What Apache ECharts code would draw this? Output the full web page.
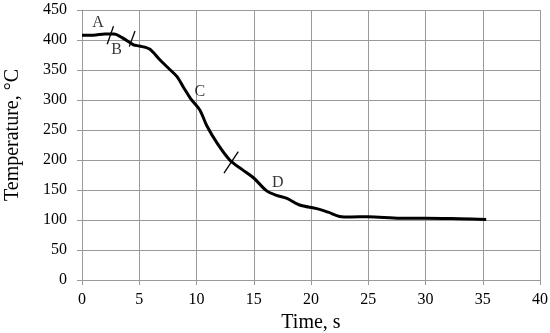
<!DOCTYPE html>
<html><head><meta charset="utf-8">
<script src="https://cdn.jsdelivr.net/npm/echarts@6/dist/echarts.min.js"></script>
<style>html,body{margin:0;padding:0;background:#fff}#c{width:550px;height:333px}</style>
</head><body><div id="c"></div>
<script>
const timeS = [0, 1, 2, 2.8, 3.5, 4.5, 5, 5.9, 6.8, 7.6, 8.3, 8.9, 9.5, 10.3, 10.9, 11.8, 12.9, 14, 15, 16.1, 17, 17.9, 19, 20.5, 21.5, 22.5, 23.5, 25, 27.8, 30, 33, 35.3];
const tempC = [408, 408, 410, 410, 404, 392, 390, 385, 367, 352, 339, 320, 302, 283, 257, 228, 200, 184, 170, 149, 141, 136, 125, 119, 113, 106, 105, 105.5, 103, 103, 102, 101];
const slashA = [[2.2, 393], [2.75, 423]];
const slashB = [[4.13, 389], [4.63, 415]];
const slashC = [[12.4, 178], [13.65, 214]];
const stageLabels = [["A", 1.4, 428], ["B", 3.03, 384], ["C", 10.3, 314], ["D", 17.1, 162]];
const xTicks = [0, 5, 10, 15, 20, 25, 30, 35, 40];
const yTicks = [0, 50, 100, 150, 200, 250, 300, 350, 400, 450];

const font = 'Liberation Serif, Times New Roman, serif';
const gray = '#9a9a9a';
const slashSeries = [slashA, slashB, slashC].map(d => ({
  type: 'line', data: d, symbol: 'none', silent: true,
  lineStyle: {color: '#000', width: 1.3}
}));
const chart = echarts.init(document.getElementById('c'));
chart.setOption({
  animation: false,
  grid: {left: 82, right: 10, top: 10, bottom: 53, containLabel: false, outerBoundsMode: 'none'},
  xAxis: {
    type: 'value', min: xTicks[0], max: xTicks[xTicks.length-1], interval: 5,
    name: 'Time, s', nameLocation: 'middle', nameGap: 26,
    nameTextStyle: {fontFamily: font, fontSize: 20, color: '#000'},
    axisLine: {show: true, lineStyle: {color: gray}},
    axisTick: {show: true, length: 5, lineStyle: {color: gray}},
    axisLabel: {fontFamily: font, fontSize: 16, color: '#000', margin: 12},
    splitLine: {show: true, lineStyle: {color: gray, width: 1}}
  },
  yAxis: {
    type: 'value', min: yTicks[0], max: yTicks[yTicks.length-1], interval: 50,
    name: 'Temperature, °C', nameLocation: 'middle', nameGap: 59,
    nameTextStyle: {fontFamily: font, fontSize: 20, color: '#000', padding: [0, 0, 0, 20]},
    axisLine: {show: true, lineStyle: {color: gray}},
    axisTick: {show: true, length: 5, lineStyle: {color: gray}},
    axisLabel: {fontFamily: font, fontSize: 16, color: '#000', margin: 15},
    splitLine: {show: true, lineStyle: {color: gray, width: 1}}
  },
  series: [
    {type: 'line', data: timeS.map((t, i) => [t, tempC[i]]), symbol: 'none', smooth: 0.3,
     lineStyle: {color: '#000', width: 3}},
    ...slashSeries,
    {type: 'scatter', data: stageLabels.map(l => ({value: [l[1], l[2]], name: l[0]})),
     symbolSize: 0, silent: true,
     label: {show: true, position: 'inside', formatter: p => p.name,
       fontFamily: font, fontSize: 16, color: '#000'}}
  ]
});
</script></body></html>
